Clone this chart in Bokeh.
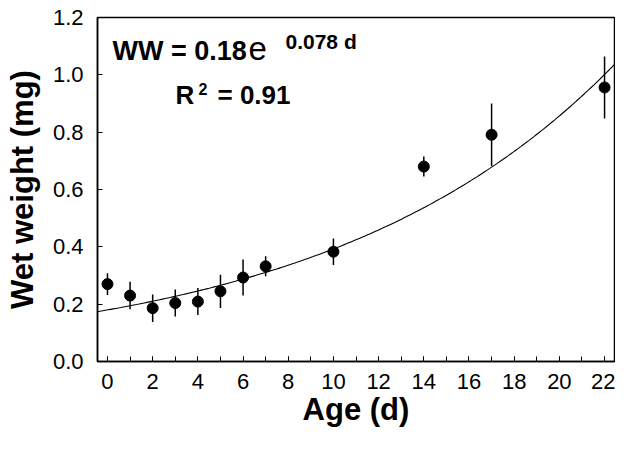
import numpy as np
from bokeh.plotting import figure
from bokeh.models import Label, FixedTicker, Range1d, CustomJSTickFormatter
from bokeh.embed import file_html
from bokeh.resources import INLINE

# Data
age = [0, 1, 2, 3, 4, 5, 6, 7, 10, 14, 17, 22]
ww = [0.27, 0.23, 0.186, 0.204, 0.209, 0.245, 0.293, 0.332, 0.383, 0.68, 0.791, 0.956]
err = [0.038, 0.048, 0.048, 0.047, 0.047, 0.058, 0.063, 0.035, 0.046, 0.035, 0.109, 0.108]

# Axis ticks
x_major_ticks = [0, 2, 4, 6, 8, 10, 12, 14, 16, 18, 20, 22]
x_minor_ticks = list(range(0, 23))
y_major_ticks = [0.0, 0.2, 0.4, 0.6, 0.8, 1.0, 1.2]

# Fit parameters shown on the chart: WW = a * exp(b * d)
fit_a = 0.18
fit_b = 0.078

FONT = "Liberation Sans"
X0, X1 = -0.442, 22.44

p = figure(width=615, height=434, output_backend="svg", toolbar_location=None,
           x_range=Range1d(X0, X1), y_range=Range1d(0, 1.2),
           min_border_left=97, min_border_right=1, min_border_top=17, min_border_bottom=73)
p.background_fill_color = "white"
p.border_fill_color = "white"
p.outline_line_color = "black"
p.outline_line_width = 1.5
p.xgrid.visible = False
p.ygrid.visible = False

# Fit curve
xs = np.linspace(X0, X1, 200)
p.line(xs, fit_a * np.exp(fit_b * xs), line_color="black", line_width=1.1)

# Error bars
lo = [v - e for v, e in zip(ww, err)]
hi = [v + e for v, e in zip(ww, err)]
p.segment(x0=age, y0=lo, x1=age, y1=hi, line_color="black", line_width=1.5)

# Points
p.scatter(age, ww, size=11, fill_color="black", line_color="black")

# Axes
xa = p.xaxis[0]
xa.ticker = FixedTicker(ticks=x_major_ticks, minor_ticks=x_minor_ticks)
ya = p.yaxis[0]
ya.ticker = FixedTicker(ticks=y_major_ticks, minor_ticks=[])
ya.formatter = CustomJSTickFormatter(code="return tick.toFixed(1);")

for ax in (xa, ya):
    ax.axis_line_color = "black"
    ax.axis_line_width = 1.5
    ax.major_tick_in = 5
    ax.major_tick_out = 0
    ax.minor_tick_in = 5
    ax.minor_tick_out = 0
    ax.major_tick_line_color = "black"
    ax.minor_tick_line_color = "black"
    ax.major_label_text_font = FONT
    ax.major_label_text_font_size = "22px"
    ax.major_label_text_color = "black"
    ax.axis_label_text_font = FONT
    ax.axis_label_text_font_size = "31px"
    ax.axis_label_text_font_style = "bold"
    ax.axis_label_text_color = "black"

xa.axis_label = "Age (d)"
xa.major_label_standoff = 12
xa.axis_label_standoff = 0
ya.axis_label = "Wet weight (mg)"
ya.major_label_standoff = 14
ya.axis_label_standoff = 10

# Equation annotation (screen units relative to the plot frame)
def lab(x, y, txt, size, style="bold"):
    p.add_layout(Label(x=x, y=y, x_units="screen", y_units="screen", text=txt,
                       text_font=FONT, text_font_size=size, text_font_style=style,
                       text_color="black", text_baseline="alphabetic", text_align="left"))

lab(15, 311, "WW = 0.18", "27px")
lab(151, 313, "e", "33px", "normal")
lab(188, 320, "0.078 d", "21px")
lab(78, 267, "R", "26px")
lab(101, 273, "2", "16px")
lab(120, 267, "= 0.91", "26px")

open("out.html", "w").write(file_html(p, INLINE))
